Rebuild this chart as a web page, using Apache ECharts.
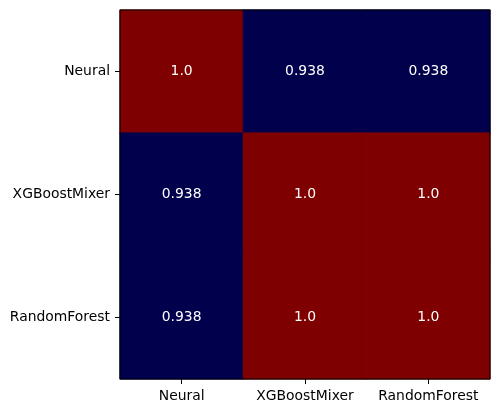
<!DOCTYPE html>
<html>
<head>
<meta charset="utf-8">
<script src="https://cdn.jsdelivr.net/npm/echarts@6/dist/echarts.min.js"></script>
<style>
html, body { margin: 0; padding: 0; background: #fff; }
#main { width: 499px; height: 413px; }
</style>
</head>
<body>
<div id="main"></div>
<script>
var models = ['Neural', 'XGBoostMixer', 'RandomForest'];
var rowNeural = [1.0, 0.938, 0.938];
var rowXGBoostMixer = [0.938, 1.0, 1.0];
var rowRandomForest = [0.938, 1.0, 1.0];
var rows = [rowNeural, rowXGBoostMixer, rowRandomForest];

// seismic colormap ends
function cellColor(v) {
    return v >= 1 ? '#7f0000' : '#00004c';
}

var data = [];
rows.forEach(function (row, i) {
    row.forEach(function (v, j) {
        var c = cellColor(v);
        data.push({
            value: [j, i, v],
            itemStyle: { color: c, borderColor: c, borderWidth: 0.6 }
        });
    });
});

var font = 'DejaVu Sans';
var option = {
    animation: false,
    grid: {
        left: 120,
        right: 9,
        top: 10,
        bottom: 34,
        show: true,
        borderColor: '#000',
        borderWidth: 1,
        z: 3
    },
    xAxis: {
        type: 'category',
        data: models,
        position: 'bottom',
        axisLine: { show: false },
        axisTick: { show: true, alignWithLabel: true, length: 5, lineStyle: { color: '#000' } },
        axisLabel: { color: '#000', fontFamily: font, fontSize: 13.9, margin: 10, interval: 0 },
        splitLine: { show: false }
    },
    yAxis: {
        type: 'category',
        data: models,
        inverse: true,
        axisLine: { show: false },
        axisTick: { show: true, alignWithLabel: true, length: 5, lineStyle: { color: '#000' } },
        axisLabel: { color: '#000', fontFamily: font, fontSize: 13.9, margin: 10, interval: 0 },
        splitLine: { show: false }
    },
    series: [{
        type: 'heatmap',
        data: data,
        label: {
            show: true,
            color: '#fff',
            fontFamily: font,
            fontSize: 13.9,
            formatter: function (p) {
                var v = p.value[2];
                return v === 1 ? '1.0' : String(v);
            }
        }
    }]
};

var myChart = echarts.init(document.getElementById('main'));
myChart.setOption(option);
</script>
</body>
</html>
